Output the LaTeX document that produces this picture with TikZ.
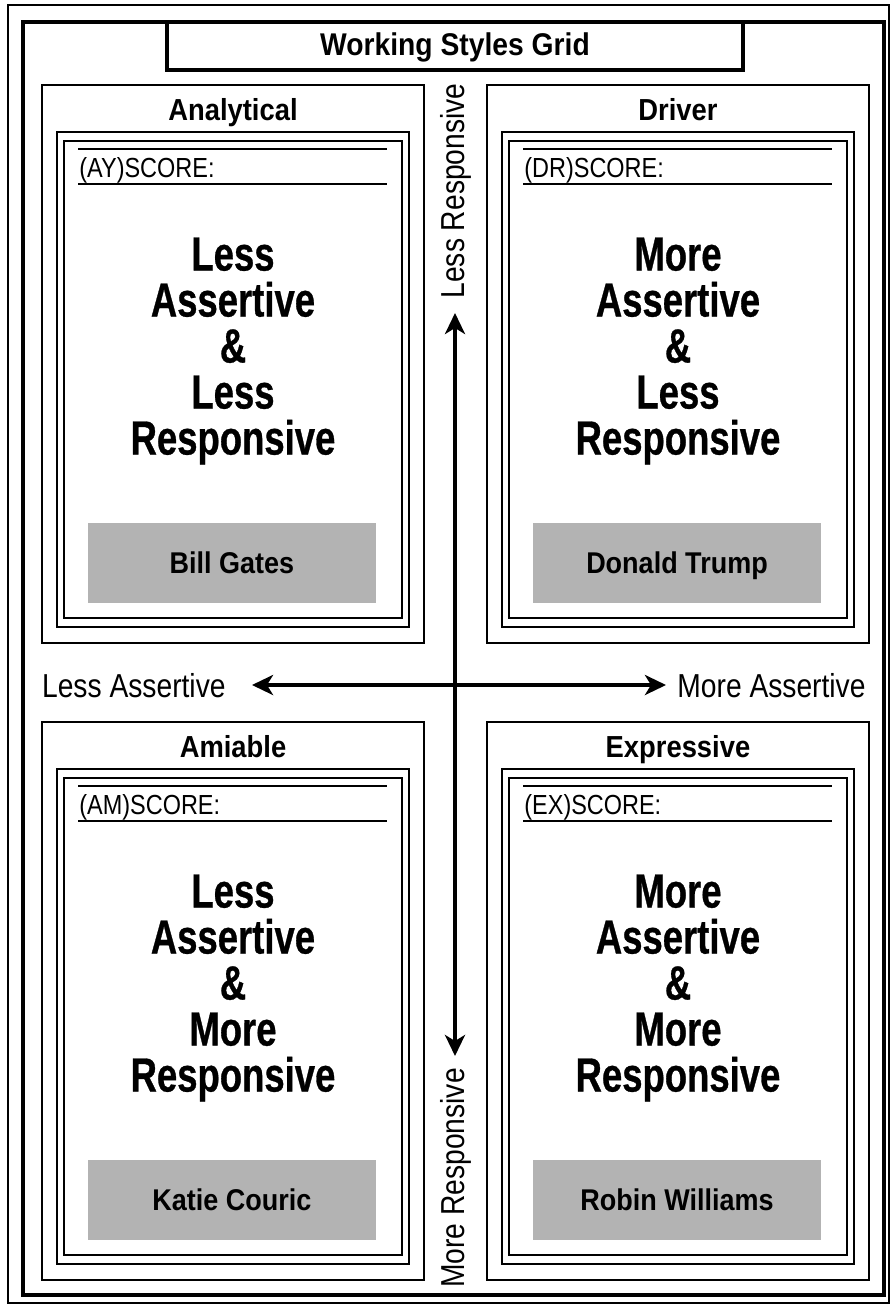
\documentclass[tikz,border=0pt]{standalone}
\usepackage{fontspec}
\setmainfont{Liberation Sans}
\newfontfamily\bfcond[FakeStretch=0.9]{Liberation Sans}
\newfontfamily\bigcond[FakeStretch=0.76,FakeBold=0.6]{Liberation Sans}
\newfontfamily\rgcond[FakeStretch=0.85]{Liberation Sans}
\usetikzlibrary{arrows.meta}
\definecolor{namegray}{RGB}{179,179,179}
\tikzset{
  outerline/.style={draw, line width=0.8pt},
  thickframe/.style={draw, line width=2pt},
  titlebox/.style={draw, line width=1.8pt},
  quadbox/.style={draw, line width=1pt},
  innerA/.style={draw, line width=1.3pt},
  innerB/.style={draw, line width=1pt},
  scoreline/.style={line width=1pt},
  titletxt/.style={font=\bfcond\bfseries\fontsize{15.7}{18}\selectfont, inner sep=0pt},
  quadtitle/.style={font=\bfcond\bfseries\fontsize{15.2}{18}\selectfont, inner sep=0pt, anchor=base},
  scoretxt/.style={font=\rgcond\fontsize{13.8}{16}\selectfont, inner sep=0pt, anchor=base west},
  bigtxt/.style={font=\bigcond\bfseries\fontsize{24}{23}\selectfont, align=center, inner sep=0pt},
  namebox/.style={fill=namegray, minimum width=144pt, minimum height=40pt, inner sep=0pt,
    text height=10.8pt, text depth=0pt,
    font=\bfcond\bfseries\fontsize{15}{18}\selectfont},
  axistxt/.style={font=\rgcond\fontsize{16.6}{20}\selectfont, inner sep=0pt},
  axisarrow/.style={line width=2pt, {Stealth[length=10.5pt,width=10pt,inset=3pt]}-{Stealth[length=10.5pt,width=10pt,inset=3pt]}}
}
\newcommand\wsquad[7]{%
  \begin{scope}[shift={(#1,#2)}]
    \draw[quadbox] (42,85) rectangle (424,643);
    \draw[innerA] (57,132) rectangle (409,627);
    \draw[innerB] (64,141) rectangle (402,618);
    \draw[scoreline] (78,149) -- (387,149);
    \draw[scoreline] (78,184) -- (387,184);
    \node[quadtitle] (#3-title) at (233,120) {#4};
    \node[scoretxt] (#3-score) at (79,177) {(#5)SCORE:};
    \node[bigtxt] (#3-big) at (233,351) {#6};
    \node[namebox] (#3-name) at (232,563) {#7};
  \end{scope}}
\begin{document}
\begin{tikzpicture}[x=0.5pt,y=-0.5pt]
  \useasboundingbox (0,0) rectangle (895,1308);
  \draw[outerline] (8,5) rectangle (889,1303);
  \draw[thickframe] (23,22) rectangle (884,1295);
  \node[titlebox, minimum width=288pt, minimum height=24pt, inner sep=0pt] (title) at (455,46) {};
  \node[titletxt] (titletext) at (455,47) {Working Styles Grid};

  \wsquad{0}{0}{ay}{Analytical}{AY}{Less\\Assertive\\\&\\Less\\Responsive}{Bill Gates}
  \wsquad{445}{0}{dr}{Driver}{DR}{More\\Assertive\\\&\\Less\\Responsive}{Donald Trump}
  \wsquad{0}{637}{am}{Amiable}{AM}{Less\\Assertive\\\&\\More\\Responsive}{Katie Couric}
  \wsquad{445}{637}{ex}{Expressive}{EX}{More\\Assertive\\\&\\More\\Responsive}{Robin Williams}

  \node[axistxt, anchor=east] (lessA) at (226,686) {Less Assertive};
  \node[axistxt, anchor=west] (moreA) at (677,686) {More Assertive};
  \node[axistxt, rotate=90] (lessR) at (456,191) {Less Responsive};
  \node[axistxt, rotate=90] (moreR) at (456,1178) {More Responsive};

  \coordinate (hl) at (252,685);
  \coordinate (hr) at (666,685);
  \coordinate (vt) at (455,313);
  \coordinate (vb) at (455,1056);
  \draw[axisarrow] (hl) -- (hr);
  \draw[axisarrow] (vt) -- (vb);
\end{tikzpicture}
\end{document}
